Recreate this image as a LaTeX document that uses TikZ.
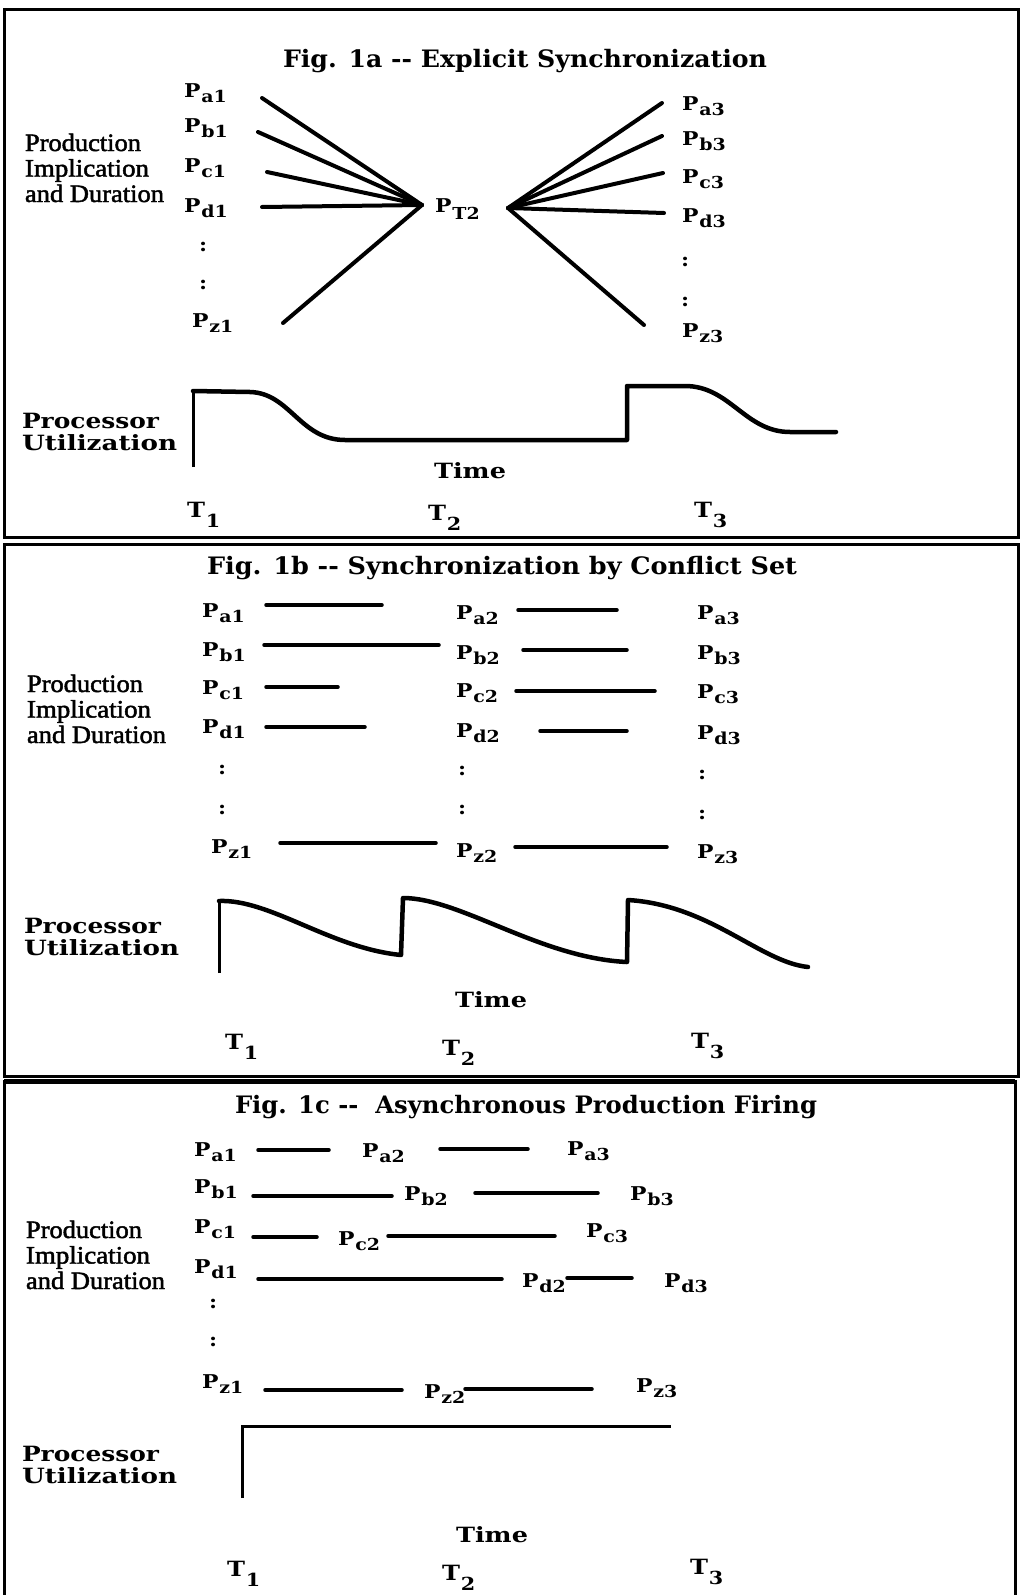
\documentclass[tikz,border=0pt]{standalone}
\usepackage{fontspec}
\usepackage{graphicx}
\setmainfont{DejaVu Serif}
\newfontfamily\timesf{Liberation Serif}[FakeBold=1.8]
\newfontfamily\wideb{DejaVu Serif}[FakeStretch=1.15]
\newcommand\fitw[2]{\resizebox{#1}{\height}{#2}}
\newcommand\plab[1]{P\kern0.05em\raisebox{-0.3em}{\fontsize{16.5}{16.5}\selectfont #1}}
\newcommand\tlab[1]{T\kern0.04em\raisebox{-0.5em}{\fontsize{18}{18}\selectfont #1}}
\newcommand\prodblock{\vtop{\baselineskip=25.5pt\lineskiplimit=-100pt\hbox{\fitw{116pt}{Production}}\hbox{\fitw{124pt}{Implication}}\hbox{\fitw{139pt}{and Duration}}}}
\newcommand\procblock{\vtop{\baselineskip=22pt\lineskiplimit=-100pt\hbox{\fitw{137pt}{Processor}}\hbox{\fitw{155pt}{Utilization}}}}
\tikzset{
  every node/.style={inner sep=0pt, outer sep=0pt},
  ttl/.style={anchor=base west, font=\bfseries\fontsize{24}{24}\selectfont},
  lbl/.style={anchor=base west, font=\wideb\bfseries\fontsize{19}{19}\selectfont},
  tl/.style={anchor=base west, font=\wideb\bfseries\fontsize{21}{21}\selectfont},
  prod/.style={anchor=base west, font=\timesf\fontsize{25}{25}\selectfont},
  proc/.style={anchor=base west, font=\bfseries\fontsize{21}{21}\selectfont},
  frame/.style={line width=3pt},
  fan/.style={line width=4pt, line cap=round},
  bar/.style={line width=3.5pt, line cap=round},
  util/.style={line width=4.5pt, line join=round, line cap=round},
  axis/.style={line width=3pt},
}
\begin{document}
\begin{tikzpicture}[x=1pt,y=-1pt]
\useasboundingbox (0,0) rectangle (1026,1595);
\fill[white] (0,0) rectangle (1026,1595);
% frames
\draw[frame] (4,10) rectangle (1018,537);
\draw[frame] (4,544) rectangle (1018,1076);
\draw[frame] (4,1595) -- (4,1081) -- (1015,1081) -- (1015,1595);
\draw[line width=5pt] (4,1081) -- (1015,1081);

% ================= Fig 1a =================
\node[ttl] (Atitle) at (283,67) {\fitw{484pt}{Fig. 1a -{}- Explicit Synchronization}};
\node[prod] (Aprod) at (25,151) {\prodblock};
\node[lbl] (Aa1) at (184,97) {\plab{a1}};
\node[lbl] (Ab1) at (184,132) {\plab{b1}};
\node[lbl] (Ac1) at (184,172) {\plab{c1}};
\node[lbl] (Ad1) at (184,212) {\plab{d1}};
\node[lbl] (Acl1) at (199,251) {:};
\node[lbl] (Acl2) at (199,289) {:};
\node[lbl] (Az1) at (192,327) {\plab{z1}};
\node[lbl] (APT) at (435,212) {P\kern0.05em\raisebox{-0.42em}{\fontsize{16.5}{16.5}\selectfont T2}};
\node[lbl] (Aa3) at (682,110) {\plab{a3}};
\node[lbl] (Ab3) at (682,145) {\plab{b3}};
\node[lbl] (Ac3) at (682,183) {\plab{c3}};
\node[lbl] (Ad3) at (682,222) {\plab{d3}};
\node[lbl] (Acl3) at (681,266) {:};
\node[lbl] (Acl4) at (681,306) {:};
\node[lbl] (Az3) at (682,337) {\plab{z3}};
\coordinate (AhL) at (422,205);
\coordinate (AhR) at (508,208);
\coordinate (Aea1) at (262,98);
\coordinate (Aeb1) at (258,132);
\coordinate (Aec1) at (267,172);
\coordinate (Aed1) at (262,207);
\coordinate (Aez1) at (283,323);
\coordinate (Aea3) at (662,103);
\coordinate (Aeb3) at (662,136);
\coordinate (Aec3) at (663,173);
\coordinate (Aed3) at (664,213);
\coordinate (Aez3) at (644,325);
\foreach \e in {Aea1,Aeb1,Aec1,Aed1,Aez1} \draw[fan] (\e) -- (AhL);
\foreach \e in {Aea3,Aeb3,Aec3,Aed3,Aez3} \draw[fan] (AhR) -- (\e);
\node[proc] (Aproc) at (22,428) {\procblock};
\draw[axis] (193,467) -- (193,391);
\draw[util] (193,391) -- (250,392) .. controls (290,393) and (300,440) .. (345,440) -- (627,440) -- (627,386) -- (685,386) .. controls (730,386) and (745,432) .. (790,432) -- (836,432);
\node[proc] (Atime) at (434,478) {\fitw{72pt}{Time}};
\node[tl] (AT1) at (187,517) {\tlab{1}};
\node[tl] (AT2) at (428,520) {\tlab{2}};
\node[tl] (AT3) at (694,517) {\tlab{3}};

% ================= Fig 1b =================
\node[ttl] (Btitle) at (207,574) {\fitw{590pt}{Fig. 1b -{}- Synchronization by Conflict Set}};
\node[prod] (Bprod) at (27,692) {\prodblock};
\node[lbl] (Ba1) at (202,617) {\plab{a1}};
\node[lbl] (Bb1) at (202,656) {\plab{b1}};
\node[lbl] (Bc1) at (202,694) {\plab{c1}};
\node[lbl] (Bd1) at (202,733) {\plab{d1}};
\node[lbl] (Bcl1) at (218,774) {:};
\node[lbl] (Bcl2) at (218,814) {:};
\node[lbl] (Bz1) at (211,853) {\plab{z1}};
\node[lbl] (Ba2) at (456,619) {\plab{a2}};
\node[lbl] (Bb2) at (456,659) {\plab{b2}};
\node[lbl] (Bc2) at (456,697) {\plab{c2}};
\node[lbl] (Bd2) at (456,737) {\plab{d2}};
\node[lbl] (Bcl3) at (458,775) {:};
\node[lbl] (Bcl4) at (458,814) {:};
\node[lbl] (Bz2) at (456,857) {\plab{z2}};
\node[lbl] (Ba3) at (697,619) {\plab{a3}};
\node[lbl] (Bb3) at (697,659) {\plab{b3}};
\node[lbl] (Bc3) at (697,698) {\plab{c3}};
\node[lbl] (Bd3) at (697,739) {\plab{d3}};
\node[lbl] (Bcl5) at (698,779) {:};
\node[lbl] (Bcl6) at (698,819) {:};
\node[lbl] (Bz3) at (697,858) {\plab{z3}};
% bars col 1
\coordinate (Bsa1) at (266,605); \coordinate (Bta1) at (382,605);
\coordinate (Bsb1) at (264,645); \coordinate (Btb1) at (439,645);
\coordinate (Bsc1) at (266,687); \coordinate (Btc1) at (338,687);
\coordinate (Bsd1) at (266,727); \coordinate (Btd1) at (365,727);
\coordinate (Bsz1) at (280,843); \coordinate (Btz1) at (436,843);
% bars col 2
\coordinate (Bsa2) at (518,610); \coordinate (Bta2) at (617,610);
\coordinate (Bsb2) at (523,650); \coordinate (Btb2) at (627,650);
\coordinate (Bsc2) at (516,691); \coordinate (Btc2) at (655,691);
\coordinate (Bsd2) at (540,731); \coordinate (Btd2) at (627,731);
\coordinate (Bsz2) at (515,847); \coordinate (Btz2) at (667,847);
\foreach \r in {a1,b1,c1,d1,z1,a2,b2,c2,d2,z2} \draw[bar] (Bs\r) -- (Bt\r);
\node[proc] (Bproc) at (24,933) {\procblock};
\draw[axis] (219,973) -- (219,900);
\draw[util] (219,901) .. controls (270,899) and (330,948) .. (401,955) -- (403,898) .. controls (460,898) and (540,958) .. (627,962) -- (628,900) .. controls (710,905) and (760,962) .. (808,967);
\node[proc] (Btime) at (455,1007) {\fitw{72pt}{Time}};
\node[tl] (BT1) at (225,1049) {\tlab{1}};
\node[tl] (BT2) at (442,1055) {\tlab{2}};
\node[tl] (BT3) at (691,1048) {\tlab{3}};

% ================= Fig 1c =================
\node[ttl] (Ctitle) at (235,1113) {\fitw{582pt}{Fig. 1c -{}-\ \ Asynchronous Production Firing}};
\node[prod] (Cprod) at (26,1238) {\prodblock};
\node[lbl] (Ca1) at (194,1156) {\plab{a1}};
\node[lbl] (Ca2) at (362,1157) {\plab{a2}};
\node[lbl] (Ca3) at (567,1155) {\plab{a3}};
\node[lbl] (Cb1) at (194,1193) {\plab{b1}};
\node[lbl] (Cb2) at (404,1200) {\plab{b2}};
\node[lbl] (Cb3) at (630,1200) {\plab{b3}};
\node[lbl] (Cc1) at (194,1233) {\plab{c1}};
\node[lbl] (Cc2) at (338,1245) {\plab{c2}};
\node[lbl] (Cc3) at (586,1237) {\plab{c3}};
\node[lbl] (Cd1) at (194,1273) {\plab{d1}};
\node[lbl] (Cd2) at (522,1287) {\plab{d2}};
\node[lbl] (Cd3) at (664,1287) {\plab{d3}};
\node[lbl] (Ccl1) at (209,1308) {:};
\node[lbl] (Ccl2) at (209,1346) {:};
\node[lbl] (Cz1) at (202,1388) {\plab{z1}};
\node[lbl] (Cz2) at (424,1398) {\plab{z2}};
\node[lbl] (Cz3) at (636,1392) {\plab{z3}};
\coordinate (Csa1) at (258,1150); \coordinate (Cta1) at (329,1150);
\coordinate (Csa2) at (440,1149); \coordinate (Cta2) at (528,1149);
\coordinate (Csb1) at (253,1196); \coordinate (Ctb1) at (392,1196);
\coordinate (Csb2) at (475,1193); \coordinate (Ctb2) at (598,1193);
\coordinate (Csc1) at (253,1237); \coordinate (Ctc1) at (317,1237);
\coordinate (Csc2) at (388,1236); \coordinate (Ctc2) at (555,1236);
\coordinate (Csd1) at (258,1279); \coordinate (Ctd1) at (502,1279);
\coordinate (Csd2) at (567,1278); \coordinate (Ctd2) at (632,1278);
\coordinate (Csz1) at (265,1390); \coordinate (Ctz1) at (402,1390);
\coordinate (Csz2) at (465,1389); \coordinate (Ctz2) at (592,1389);
\foreach \r in {a1,a2,b1,b2,c1,c2,d1,d2,z1,z2} \draw[bar] (Cs\r) -- (Ct\r);
\node[proc] (Cproc) at (22,1461) {\procblock};
\draw[axis] (242,1498) -- (242,1426) -- (671,1426);
\node[proc] (Ctime) at (456,1542) {\fitw{72pt}{Time}};
\node[tl] (CT1) at (227,1576) {\tlab{1}};
\node[tl] (CT2) at (442,1580) {\tlab{2}};
\node[tl] (CT3) at (690,1574) {\tlab{3}};
\end{tikzpicture}
\end{document}
